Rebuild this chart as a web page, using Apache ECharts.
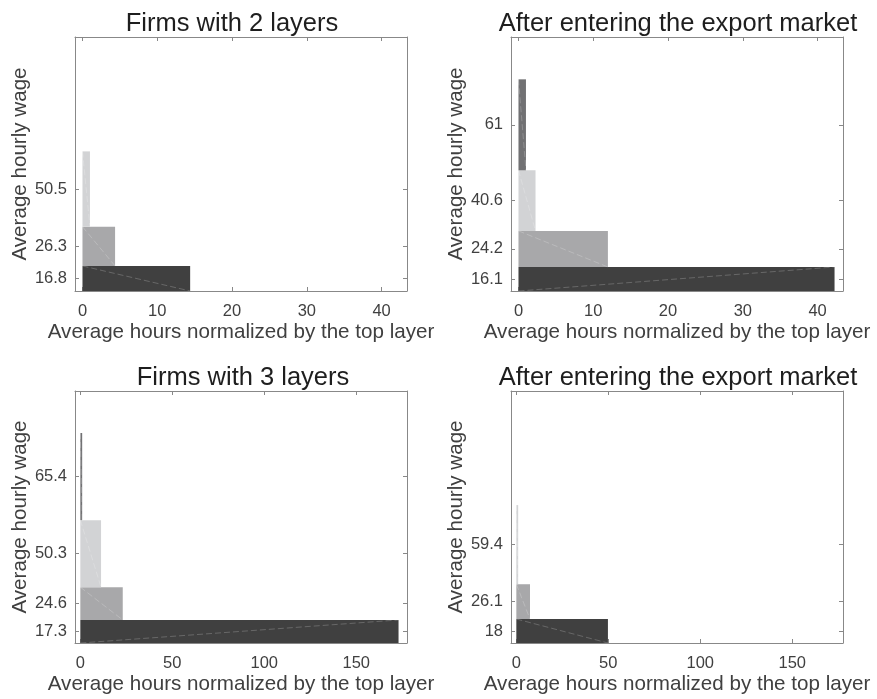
<!DOCTYPE html>
<html>
<head>
<meta charset="utf-8">
<script src="https://cdn.jsdelivr.net/npm/echarts@6/dist/echarts.min.js"></script>
<style>
  html, body { margin: 0; padding: 0; background: #ffffff; }
  #chart { width: 877px; height: 699px; }
</style>
</head>
<body>
<div id="chart"></div>
<script>
// Panel titles
const panelTitles = [
  'Firms with 2 layers',
  'After entering the export market',
  'Firms with 3 layers',
  'After entering the export market'
];

// Average hourly wage of each layer (bottom layer first)
const wages2Layers = [16.8, 26.3, 50.5];
const wages2Export = [16.1, 24.2, 40.6, 61];
const wages3Layers = [17.3, 24.6, 50.3, 65.4];
const wages3Export = [18, 26.1, 59.4];

// Average hours of each layer, normalized by the top layer
const hours2Layers = [14.4, 4.36, 1];
const hours2Export = [42.27, 11.96, 2.28, 1];
const hours3Layers = [173, 23.06, 11.26, 1];
const hours3Export = [49.8, 7.43, 1];

// Tick labels on the horizontal axes
const xTicksTopRow = [0, 10, 20, 30, 40];
const xTicksBottomRow = [0, 50, 100, 150];

const FONT = "'Liberation Sans', Arial, Helvetica, sans-serif";
const layerColors = ['#404040', '#a8a8aa', '#d2d3d5', '#717173'];
// faint triangulation seam across each patch: 1 runs top-left to bottom-right, -1 bottom-left to top-right
const seamDirs = [[1, 1, 1], [-1, 1, 1, 1], [-1, 1, 1, 1], [1, 1, 1]];

const panels = [
  { wages: wages2Layers, hours: hours2Layers },
  { wages: wages2Export, hours: hours2Export },
  { wages: wages3Layers, hours: hours3Layers },
  { wages: wages3Export, hours: hours3Export }
];

const sum = a => a.reduce((s, v) => s + v, 0);
// vertical range shared by the panels in a row: 20% headroom over the tallest stack
const yMaxTop = 1.2 * Math.max(sum(wages2Layers), sum(wages2Export));
const yMaxBottom = 1.2 * Math.max(sum(wages3Layers), sum(wages3Export));

const grids = [
  { left: 75, top: 37, width: 332, height: 254 },
  { left: 511, top: 37, width: 332, height: 254 },
  { left: 75, top: 391, width: 332, height: 252 },
  { left: 511, top: 391, width: 332, height: 252 }
];
const titleCenters = [232, 678, 243, 678];
const titleTops = [11, 11, 365, 365];

const axisColor = '#888888';
const labelColor = '#404040';

const option = {
  animation: false,
  backgroundColor: '#ffffff',
  title: panelTitles.map((t, i) => ({
    text: t,
    left: titleCenters[i],
    top: titleTops[i],
    padding: 0,
    textAlign: 'center',
    textStyle: { fontFamily: FONT, fontSize: 25.5, fontWeight: 'normal', color: '#1e1e1e' }
  })),
  grid: grids.map(g => Object.assign({ containLabel: false }, g)),
  xAxis: [],
  yAxis: [],
  series: []
};

panels.forEach((p, i) => {
  const topRow = i < 2;
  const xMin = topRow ? -1 : -2.9;
  const xMax = topRow ? 43.4 : 177.6;
  const xTicks = topRow ? xTicksTopRow : xTicksBottomRow;
  const yMax = topRow ? yMaxTop : yMaxBottom;

  // stack the layers: each patch is as tall as its wage, as wide as its hours
  const rows = [];
  const centers = [];
  let base = 0;
  p.wages.forEach((w, k) => {
    rows.push([base, base + w, p.hours[k], k, seamDirs[i][k]]);
    centers.push(base + w / 2);
    base += w;
  });

  const lineStyle = { color: axisColor, width: 1 };
  const tickStyle = { color: axisColor, width: 1 };

  option.xAxis.push({
    gridIndex: i, type: 'value', position: 'bottom', min: xMin, max: xMax,
    axisLine: { show: true, onZero: false, lineStyle },
    axisTick: { show: true, inside: true, length: 4, customValues: xTicks, lineStyle: tickStyle },
    axisLabel: { customValues: xTicks, margin: 12, color: labelColor, fontSize: 16.5, fontFamily: FONT },
    splitLine: { show: false },
    name: 'Average hours normalized by the top layer',
    nameLocation: 'middle', nameGap: 31,
    nameTextStyle: { fontFamily: FONT, fontSize: 20.6, color: labelColor }
  });
  option.xAxis.push({
    gridIndex: i, type: 'value', position: 'top', min: xMin, max: xMax,
    axisLine: { show: true, onZero: false, lineStyle },
    axisTick: { show: true, inside: true, length: 4, customValues: xTicks, lineStyle: tickStyle },
    axisLabel: { show: false },
    splitLine: { show: false }
  });

  const wageText = v => {
    let best = 0;
    centers.forEach((c, k) => { if (Math.abs(c - v) < Math.abs(centers[best] - v)) best = k; });
    return String(p.wages[best]);
  };

  option.yAxis.push({
    gridIndex: i, type: 'value', position: 'left', min: 0, max: yMax,
    axisLine: { show: true, onZero: false, lineStyle },
    axisTick: { show: true, inside: true, length: 4, customValues: centers, lineStyle: tickStyle },
    axisLabel: { customValues: centers, formatter: wageText, margin: 8, color: labelColor, fontSize: 16.5, fontFamily: FONT },
    splitLine: { show: false },
    name: 'Average hourly wage',
    nameLocation: 'middle', nameGap: 42,
    nameTextStyle: { fontFamily: FONT, fontSize: 20.6, color: labelColor }
  });
  option.yAxis.push({
    gridIndex: i, type: 'value', position: 'right', min: 0, max: yMax,
    axisLine: { show: true, onZero: false, lineStyle },
    axisTick: { show: true, inside: true, length: 4, customValues: centers, lineStyle: tickStyle },
    axisLabel: { show: false },
    splitLine: { show: false }
  });

  option.series.push({
    type: 'custom',
    xAxisIndex: 2 * i,
    yAxisIndex: 2 * i,
    clip: true,
    data: rows,
    encode: { x: 2, y: [0, 1] },
    renderItem: function (params, api) {
      const y0 = api.value(0), y1 = api.value(1), h = api.value(2);
      const k = api.value(3), dir = api.value(4);
      const a = api.coord([0, y0]);
      const b = api.coord([h, y1]);
      const x0 = a[0], x1 = b[0], yb = a[1], yt = b[1];
      const seam = dir > 0
        ? { x1: x0, y1: yt, x2: x1, y2: yb }
        : { x1: x0, y1: yb, x2: x1, y2: yt };
      return {
        type: 'group',
        children: [
          {
            type: 'rect',
            shape: { x: x0, y: yt, width: x1 - x0, height: yb - yt },
            style: { fill: layerColors[k], stroke: null }
          },
          {
            type: 'line',
            shape: seam,
            style: { stroke: 'rgba(255,255,255,0.26)', lineWidth: 0.8, lineDash: [6, 3] }
          }
        ]
      };
    }
  });
});

const chart = echarts.init(document.getElementById('chart'), null, { renderer: 'canvas' });
chart.setOption(option);
</script>
</body>
</html>
